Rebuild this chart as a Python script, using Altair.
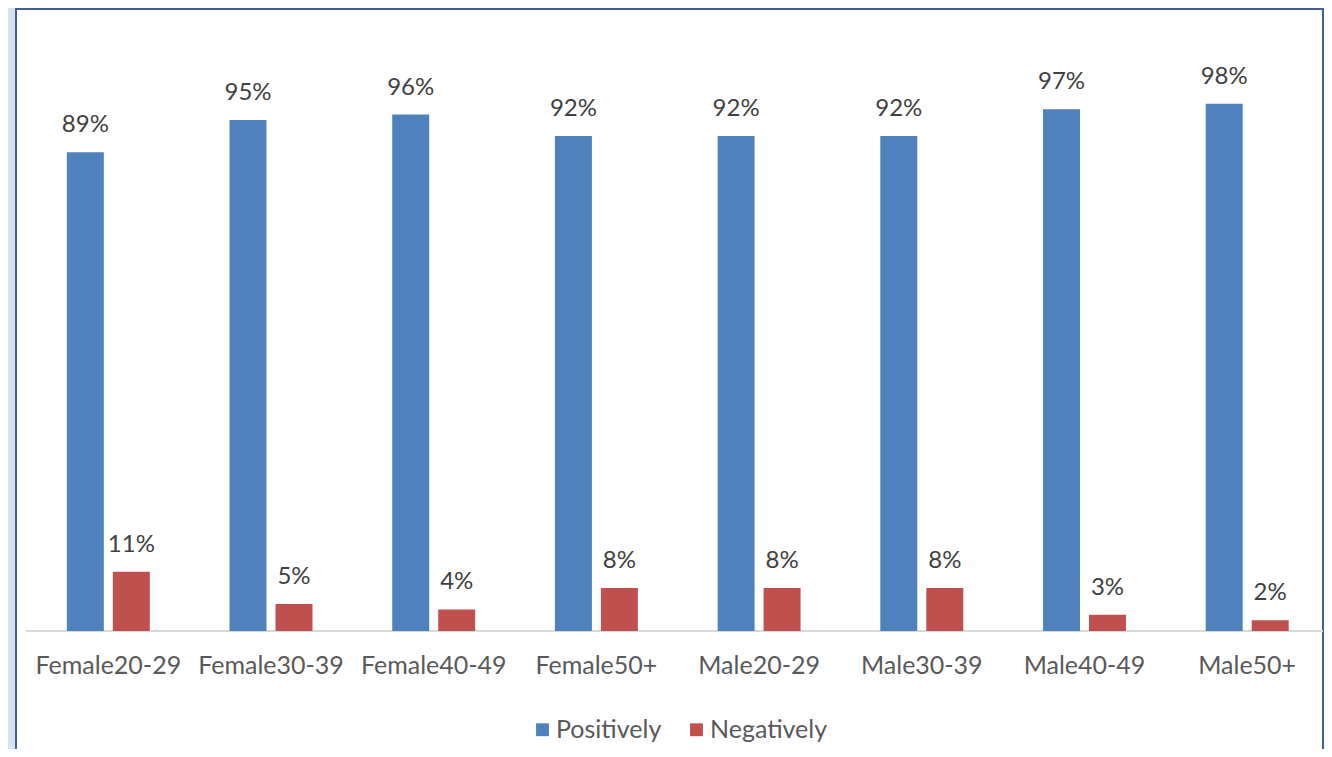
import altair as alt
import pandas as pd

categories = ["Female20-29", "Female30-39", "Female40-49", "Female50+",
              "Male20-29", "Male30-39", "Male40-49", "Male50+"]
positively = [0.89, 0.95, 0.96, 0.92, 0.92, 0.92, 0.97, 0.98]
negatively = [0.11, 0.05, 0.04, 0.08, 0.08, 0.08, 0.03, 0.02]
series = ["Positively", "Negatively"]
colors = ["#4F81BD", "#C0504D"]

rows = []
for c, p, n in zip(categories, positively, negatively):
    rows.append({"cat": c, "series": "Positively", "value": p})
    rows.append({"cat": c, "series": "Negatively", "value": n})
df = pd.DataFrame(rows)

FONT = "Lato"

x_enc = alt.X("cat:N", sort=categories, title=None,
              scale=alt.Scale(paddingInner=0.49, paddingOuter=0.231,
                              align=0.53, round=False),
              axis=alt.Axis(domain=False, ticks=False, labelAngle=0,
                            labelPadding=22, labelFontSize=25, zindex=2,
                            labelColor="#595959", labelFont=FONT))
xo_enc = alt.XOffset("series:N", sort=series,
                     scale=alt.Scale(paddingInner=0.196, paddingOuter=0))
y_enc = alt.Y("value:Q", scale=alt.Scale(domain=[0, 1.158], nice=False),
              axis=None)

panel = alt.Chart(df).mark_rect(
    fill="white", stroke="#3F6090", strokeWidth=2
).encode(x=alt.value(-11), x2=alt.value(1296), y=alt.value(1), y2=alt.value(800))

base_line = alt.Chart(df).mark_rule(
    color="#D9D9D9", strokeWidth=1.5
).encode(x=alt.value(-1), x2=alt.value(1296), y=alt.value(623))

bars = alt.Chart(df).mark_bar().encode(
    x=x_enc, xOffset=xo_enc, y=y_enc,
    color=alt.Color("series:N", sort=series,
                    scale=alt.Scale(domain=series, range=colors),
                    legend=alt.Legend(title=None, orient="none",
                                      direction="horizontal",
                                      legendX=503, legendY=709,
                                      symbolType="square", symbolSize=165,
                                      symbolStrokeWidth=0, zindex=2,
                                      labelFontSize=25, labelFont=FONT,
                                      labelColor="#595959", labelOffset=1,
                                      columnPadding=22, padding=0))
)

labels = alt.Chart(df).mark_text(
    dy=-20, baseline="alphabetic", fontSize=24, font=FONT, color="#404040"
).encode(x=x_enc, xOffset=xo_enc, y=y_enc,
         text=alt.Text("value:Q", format=".0%"))

chart = alt.layer(panel, base_line, bars, labels).properties(
    width=1297, height=623,
    autosize=alt.AutoSizeParams(type="none"),
    padding={"left": 19, "top": 0, "right": 0, "bottom": 118},
    background="#D6E3F1",
).configure_view(stroke=None)

chart.save("out.html", embed_options={"renderer": "svg", "actions": False})
